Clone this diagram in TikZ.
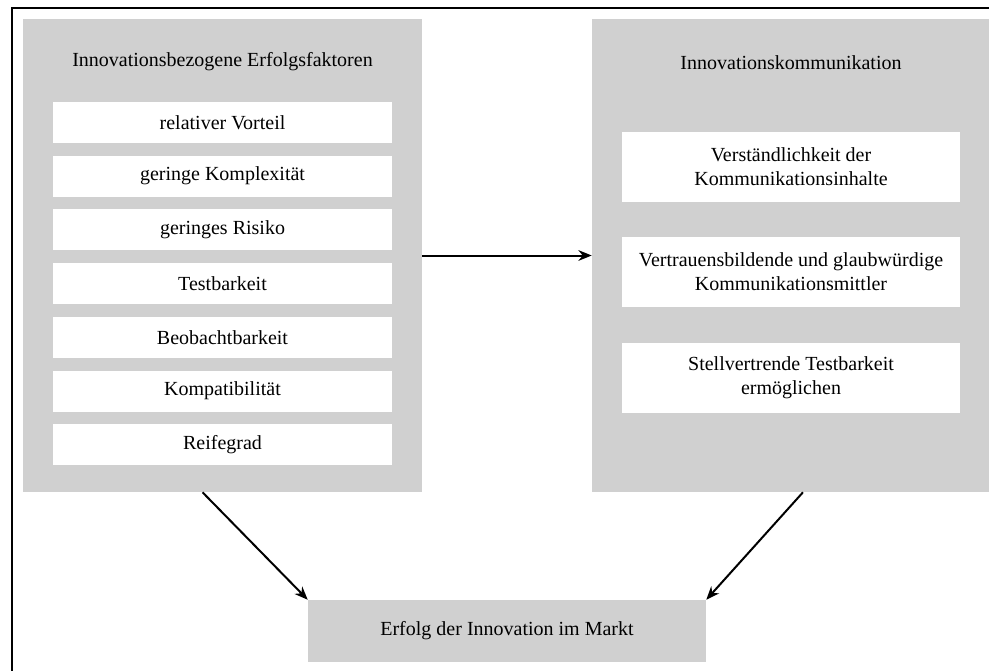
\documentclass[tikz,border=0pt]{standalone}
\usepackage{fontspec}
\setmainfont{Liberation Serif}
\usetikzlibrary{arrows.meta}
\definecolor{boxgray}{RGB}{208,208,208}
\begin{document}
\begin{tikzpicture}[x = 0.75pt, y = -0.75pt,
		font = \fontsize{15}{18}\selectfont,
		group/.style = {fill = boxgray, inner sep = 0pt, minimum width = 299.25pt, minimum height = 354.75pt},
		item/.style = {fill = white, inner sep = 0pt, minimum width = 254.25pt, minimum height = 30.75pt},
		means/.style = {fill = white, inner sep = 0pt, minimum width = 253.5pt, minimum height = 52.5pt, align = center},
		result/.style = {fill = boxgray, inner sep = 0pt, minimum width = 298.5pt, minimum height = 46.5pt},
		link/.style = {line width = 1.5pt, -{Stealth[length = 10pt, width = 8pt]}}]
			% frame
			\useasboundingbox (0, 0) rectangle (989, 671);
			\clip (0, 0) rectangle (989, 671);
			\draw[line width = 1.5pt] (12, 8) rectangle (1003, 690);
			% success factors
			\node[group] (faktoren) at (222.5, 255.5) {};
			\node (faktorentitel) at (222.5, 62) {Innovationsbezogene Erfolgsfaktoren};
			\node[item] (vorteil)      at (222.5, 122.5) {relativer Vorteil};
			\node[item] (komplexitaet) at (222.5, 176.2) {geringe Komplexität};
			\node[item] (risiko)       at (222.5, 229.9) {geringes Risiko};
			\node[item] (testbarkeit)  at (222.5, 283.6) {Testbarkeit};
			\node[item] (beobachtbar)  at (222.5, 337.3) {Beobachtbarkeit};
			\node[item] (kompatibel)   at (222.5, 391.0) {Kompatibilität};
			\node[item] (reifegrad)    at (222.5, 444.7) {Reifegrad};
			% communication
			\node[group] (kommunikation) at (791.5, 255.5) {};
			\node (kommunikationtitel) at (791, 63) {Innovationskommunikation};
			\node[means] (verstaendlich) at (791, 166.5) {Verständlichkeit der\\Kommunikationsinhalte};
			\node[means] (vertrauen)     at (791, 272.0) {Vertrauensbildende und glaubwürdige\\Kommunikationsmittler};
			\node[means] (stellvertrend) at (791, 378.0) {Stellvertrende Testbarkeit\\ermöglichen};
			% result
			\node[result] (erfolg) at (507, 631) {Erfolg der Innovation im Markt};
			% arrows
			\draw[link] (faktoren.east) -- (kommunikation.west);
			\draw[link] ([xshift = -15pt] faktoren.south) -- (erfolg.north west);
			\draw[link] ([xshift = 8.6pt] kommunikation.south) -- (erfolg.north east);
		\end{tikzpicture}
\end{document}
